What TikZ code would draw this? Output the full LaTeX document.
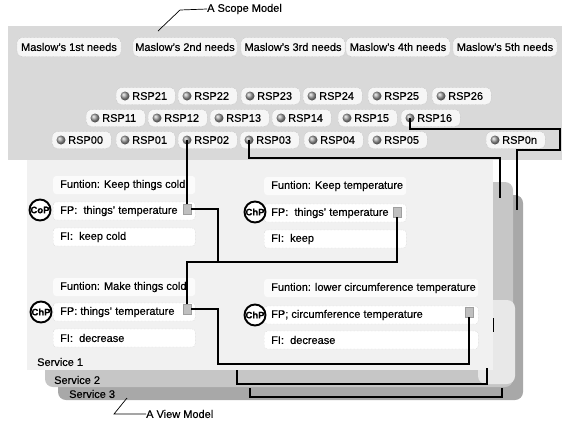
\documentclass[tikz,border=0pt]{standalone}
\usepackage{fontspec}
\setmainfont{Liberation Sans}[FakeBold=0.3]
\begin{document}
\begin{tikzpicture}[x=1pt,y=-1pt,
  every node/.style={font=\fontsize{11}{13}\selectfont, inner sep=0pt, text=black},
  tab/.style={draw=gray!65, densely dotted, fill=gray!7, rounded corners=5pt, minimum height=19pt, minimum width=104pt},
  rspbox/.style={draw=gray!65, densely dotted, fill=gray!7, rounded corners=5pt, minimum height=17pt, minimum width=59pt, anchor=west},
  ballicon/.style={circle, minimum size=9pt, ball color=gray!75},
  rowbox/.style={fill=white, draw=gray!45, densely dotted, rounded corners=3pt, minimum height=18pt, anchor=west},
  funcrow/.style={fill=gray!3, rounded corners=3pt, minimum height=18pt, anchor=west},
  txt/.style={anchor=west},
  ccirc/.style={circle, draw=black, line width=1.9pt, fill=white, minimum size=21pt, font=\bfseries\fontsize{9.5}{10}\selectfont},
  port/.style={rectangle, fill=gray!50, draw=gray!75, minimum width=8pt, minimum height=10pt},
  conn/.style={draw=black, line width=1.3pt},
  lab/.style={draw=black, line width=0.7pt},
  svlab/.style={anchor=west}
]
\useasboundingbox (0,0) rectangle (564,424);
% background panels
\fill[gray!30] (8,26) rectangle (562,160);
\fill[gray!68, rounded corners=8pt] (58,195) rectangle (523,400);
\fill[gray!45, rounded corners=8pt] (45,182) rectangle (513,387);
\fill[gray!18, rounded corners=8pt] (478,300) rectangle (515,384);
\fill[gray!11] (27,160) rectangle (493,370);
% Maslow tabs
\node[tab] (m1) at (69,47) {Maslow's 1st needs};
\node[tab] (m2) at (185,47) {Maslow's 2nd needs};
\node[tab] (m3) at (293,47) {Maslow's 3rd needs};
\node[tab] (m4) at (398,47) {Maslow's 4th needs};
\node[tab] (m5) at (505,47) {Maslow's 5th needs};
% RSP buttons
\foreach \n/\x/\y in {21/116/96, 22/178/96, 23/241/96, 24/303/96, 25/368/96, 26/432/96,
  11/86/118, 12/148/118, 13/210/118, 14/272/118, 15/338/118, 16/401/118,
  00/52/140, 01/116/140, 02/178/140, 03/240/140, 04/304/140, 05/368/140, 0n/486/140}
{ \node[rspbox] (b\n) at (\x,\y) {};
  \node[ballicon] (i\n) at (\x+9,\y) {};
  \node[anchor=west] (t\n) at (\x+16,\y) {RSP\n}; }
% Group A
\node[funcrow, minimum width=142pt] (fA) at (53,185) {};
\node[rowbox, minimum width=142pt] (rA) at (53,211) {};
\node[rowbox, minimum width=142pt] (iA) at (53,237) {};
\node[txt] (tfA) at (60,185) {Funtion: Keep things cold};
\node[txt] (trA) at (60,211) {FP:\ \ things' temperature};
\node[txt] (tiA) at (60,237) {FI:\ \ keep cold};
\node[ccirc] (cA) at (40,210) {CoP};
\node[port] (pA) at (187,209) {};
% Group B
\node[funcrow, minimum width=142pt] (fB) at (264,186) {};
\node[rowbox, minimum width=142pt] (rB) at (264,213) {};
\node[rowbox, minimum width=142pt] (iB) at (264,239) {};
\node[txt] (tfB) at (271,186) {Funtion: Keep temperature};
\node[txt] (trB) at (271,213) {FP:\ \ things' temperature};
\node[txt] (tiB) at (271,239) {FI:\ \ keep};
\node[ccirc] (cB) at (255,212) {ChP};
\node[port] (pB) at (397,212) {};
% Group C
\node[funcrow, minimum width=142pt] (fC) at (53,287) {};
\node[rowbox, minimum width=142pt] (rC) at (53,312) {};
\node[rowbox, minimum width=142pt] (iC) at (53,338) {};
\node[txt] (tfC) at (60,287) {Funtion: Make things cold};
\node[txt] (trC) at (60,312) {FP: things' temperature};
\node[txt] (tiC) at (60,338) {FI:\ \ decrease};
\node[ccirc] (cC) at (41,312) {ChP};
\node[port] (pC) at (187,309) {};
% Group D
\node[funcrow, minimum width=214pt] (fD) at (264,288) {};
\node[rowbox, minimum width=214pt] (rD) at (264,315) {};
\node[rowbox, minimum width=214pt] (iD) at (264,340) {};
\node[txt] (tfD) at (271,288) {Funtion: lower circumference temperature};
\node[txt] (trD) at (271,315) {FP; circumference temperature};
\node[txt] (tiD) at (271,340) {FI:\ \ decrease};
\node[ccirc] (cD) at (255,315) {ChP};
\node[port] (pD) at (469,312) {};
% connectors
\coordinate (k1) at (500,158);
\coordinate (k2) at (500,198);
\coordinate (k3) at (560,129);
\coordinate (k4) at (517,150);
\coordinate (k5) at (517,210);
\draw[conn] (i02.center) -- (pA.north);
\draw[conn] (i03.center) |- (k1) -- (k2);
\draw[conn] (i16.center) |- (k3) |- (k4) -- (k5);
\coordinate (jA) at (218,262);
\coordinate (jL) at (187,262);
\draw[conn] (pA.east) -| (jA);
\draw[conn] (pB.south) |- (jL) -- (pC.north);
\coordinate (jD) at (218,364);
\draw[conn] (pD.south) |- (jD) |- (pC.east);
\coordinate (s2a) at (237,370);
\coordinate (s2b) at (487,368);
\draw[conn] (s2a) -- ++(0,14) -| (s2b);
\coordinate (s3a) at (250,388);
\coordinate (s3b) at (502,388);
\draw[conn] (s3a) -- ++(0,9) -| (s3b);
\coordinate (tk1) at (493,318);
\coordinate (tk2) at (493,332);
\draw[line width=0.6pt] (tk1) -- (tk2);
% service labels
\node[svlab] (sv1) at (37,362) {Service 1};
\node[svlab] (sv2) at (54,380) {Service 2};
\node[svlab] (sv3) at (69,394) {Service 3};
% model labels
\node[anchor=west] (scope) at (207,9) {A Scope Model};
\coordinate (sc1) at (158,31);
\coordinate (sc2) at (180,10);
\draw[lab] (sc1) -- (sc2) -- (scope.west);
\node[anchor=west] (view) at (146,414) {A View Model};
\coordinate (v1) at (127,398);
\coordinate (v2) at (114,414);
\draw[lab] (v1) -- (v2) -- (view.west);
\end{tikzpicture}
\end{document}
